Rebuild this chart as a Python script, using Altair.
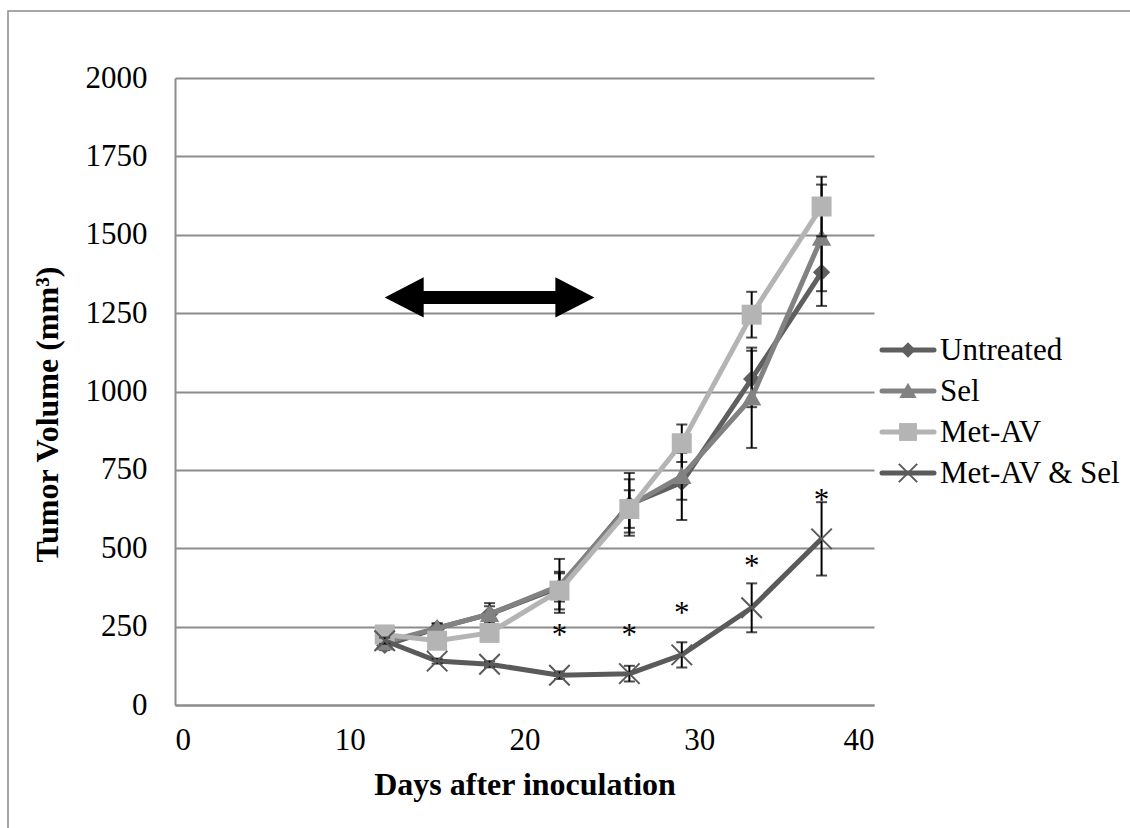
import altair as alt
import pandas as pd

# ---------------- data ----------------
days = [12, 15, 18, 22, 26, 29, 33, 37]
series_names = ["Untreated", "Sel", "Met-AV", "Met-AV & Sel"]
untreated = [190, 245, 290, 375, 640, 710, 1040, 1380]
untreated_err = [15, 15, 25, 45, 100, 120, 90, 107]
sel = [200, 245, 290, 380, 635, 730, 980, 1490]
sel_err = [15, 15, 35, 86, 85, 75, 160, 170]
met_av = [225, 205, 230, 365, 625, 835, 1245, 1590]
met_av_err = [15, 12, 18, 60, 60, 60, 73, 95]
combo = [205, 140, 130, 95, 100, 160, 310, 530]
combo_err = [10, 8, 10, 12, 25, 40, 78, 117]
sig_days = [22, 26, 29, 33, 37]
sig_levels = [230, 230, 300, 450, 660]
arrow_start, arrow_end, arrow_level = 12, 24, 1300

values = [untreated, sel, met_av, combo]
errors = [untreated_err, sel_err, met_av_err, combo_err]
colors = ["#5f5f5f", "#828282", "#b4b4b4", "#5a5a5a"]
shapes = [
    "M 0 -1 L 1 0 L 0 1 L -1 0 Z",
    "M 0 -1 L 1.05 0.85 L -1.05 0.85 Z",
    "M -1 -1 L 1 -1 L 1 1 L -1 1 Z",
    "M -1 -1 L 1 1 M -1 1 L 1 -1",
]
sizes = [300, 340, 400, 420]
filled = [True, True, True, False]

FONT = "Liberation Serif"

xscale = alt.Scale(domain=[0, 40], nice=False, zero=False)
yscale = alt.Scale(domain=[0, 2000], nice=False)

layers = []

# border of the chart area
border = alt.Chart(pd.DataFrame({"a": [0]})).mark_rect(
    fillOpacity=0, stroke="#8a8a8a", strokeWidth=1.5
).encode(x=alt.value(-167), y=alt.value(-67), x2=alt.value(1100), y2=alt.value(900))
layers.append(border)

# axes carrier (invisible)
axes_df = pd.DataFrame({"day": [0, 40], "vol": [0, 2000]})
axes = alt.Chart(axes_df).mark_point(opacity=0).encode(
    x=alt.X("day:Q", scale=xscale,
            axis=alt.Axis(values=[0, 10, 20, 30, 40], grid=False, ticks=False, format="d",
                          title="Days after inoculation", titleY=64,
                          titleBaseline="top", labelPadding=20)),
    y=alt.Y("vol:Q", scale=yscale,
            axis=alt.Axis(values=list(range(0, 2001, 250)), grid=True, ticks=False, format="d",
                          title="Tumor Volume (mm³)", titleX=-128, titleY=336,
                          titleAngle=-90, titleBaseline="middle", titleAlign="center",
                          labelPadding=28)),
)
layers.append(axes)

for i, name in enumerate(series_names):
    df = pd.DataFrame({"day": days, "vol": values[i], "err": errors[i]})
    df["lo"] = df["vol"] - df["err"]
    df["hi"] = df["vol"] + df["err"]
    base = alt.Chart(df)
    line = base.mark_line(color=colors[i], strokeWidth=5).encode(
        x=alt.X("day:Q", scale=xscale), y=alt.Y("vol:Q", scale=yscale))
    bar = base.mark_rule(color="black", strokeWidth=2).encode(
        x=alt.X("day:Q", scale=xscale), y=alt.Y("lo:Q", scale=yscale), y2="hi:Q")
    cap_lo = base.mark_tick(color="black", orient="horizontal", size=11, thickness=2).encode(
        x=alt.X("day:Q", scale=xscale), y=alt.Y("lo:Q", scale=yscale))
    cap_hi = base.mark_tick(color="black", orient="horizontal", size=11, thickness=2).encode(
        x=alt.X("day:Q", scale=xscale), y=alt.Y("hi:Q", scale=yscale))
    if filled[i]:
        mk = base.mark_point(shape=shapes[i], size=sizes[i], filled=True, fill=colors[i],
                             stroke=colors[i], strokeWidth=0, opacity=1)
    else:
        mk = base.mark_point(shape=shapes[i], size=sizes[i], filled=False,
                             stroke=colors[i], strokeWidth=2, opacity=1)
    mk = mk.encode(x=alt.X("day:Q", scale=xscale), y=alt.Y("vol:Q", scale=yscale))
    layers += [line, bar, cap_lo, cap_hi, mk]

    # legend entry
    ly = 272 + 41 * i
    one = alt.Chart(pd.DataFrame({"name": [name]}))
    layers.append(one.mark_rule(color=colors[i], strokeWidth=5, strokeCap="round").encode(
        x=alt.value(707), x2=alt.value(759), y=alt.value(ly)))
    if filled[i]:
        lm = one.mark_point(shape=shapes[i], size=sizes[i] * 0.8, filled=True, fill=colors[i],
                            strokeWidth=0, opacity=1)
    else:
        lm = one.mark_point(shape=shapes[i], size=sizes[i] * 0.8, filled=False,
                            stroke=colors[i], strokeWidth=2, opacity=1)
    layers.append(lm.encode(x=alt.value(733), y=alt.value(ly)))
    layers.append(one.mark_text(font=FONT, fontSize=31, align="left", baseline="middle",
                                color="black", dy=1).encode(
        x=alt.value(765), y=alt.value(ly), text="name:N"))

# significance asterisks
sig_df = pd.DataFrame({"day": sig_days, "lvl": sig_levels, "t": ["*"] * len(sig_days)})
layers.append(alt.Chart(sig_df).mark_text(font=FONT, fontSize=31, baseline="middle",
                                          color="black", dy=3).encode(
    x=alt.X("day:Q", scale=xscale), y=alt.Y("lvl:Q", scale=yscale), text="t:N"))

# treatment-period double arrow
arr_df = pd.DataFrame({"s": [arrow_start], "e": [arrow_end], "lvl": [arrow_level]})
arr = alt.Chart(arr_df)
layers.append(arr.mark_rule(color="black", strokeWidth=13, xOffset=30, x2Offset=-30).encode(
    x=alt.X("s:Q", scale=xscale), x2="e:Q", y=alt.Y("lvl:Q", scale=yscale)))
layers.append(arr.mark_point(shape="M -1 0 L 1 -1.03 L 1 1.03 Z", size=1521, filled=True,
                             fill="black", strokeWidth=0, opacity=1, xOffset=19.5).encode(
    x=alt.X("s:Q", scale=xscale), y=alt.Y("lvl:Q", scale=yscale)))
layers.append(arr.mark_point(shape="M 1 0 L -1 -1.03 L -1 1.03 Z", size=1521, filled=True,
                             fill="black", strokeWidth=0, opacity=1, xOffset=-19.5).encode(
    x=alt.X("e:Q", scale=xscale), y=alt.Y("lvl:Q", scale=yscale)))

chart = alt.layer(*layers).properties(
    width=699, height=627,
    autosize=alt.AutoSizeParams(type="none"),
    padding={"left": 175, "top": 78, "right": 256, "bottom": 123},
    background="white",
).configure_view(stroke=None).configure_axis(
    domainColor="#8c8c8c", domainWidth=2, gridColor="#8c8c8c", gridWidth=2,
    labelFont=FONT, labelFontSize=31, labelColor="black",
    titleFont=FONT, titleFontSize=32, titleFontWeight="bold", titleColor="black",
)

chart.save("out.html", embed_options={"renderer": "svg", "actions": False})
